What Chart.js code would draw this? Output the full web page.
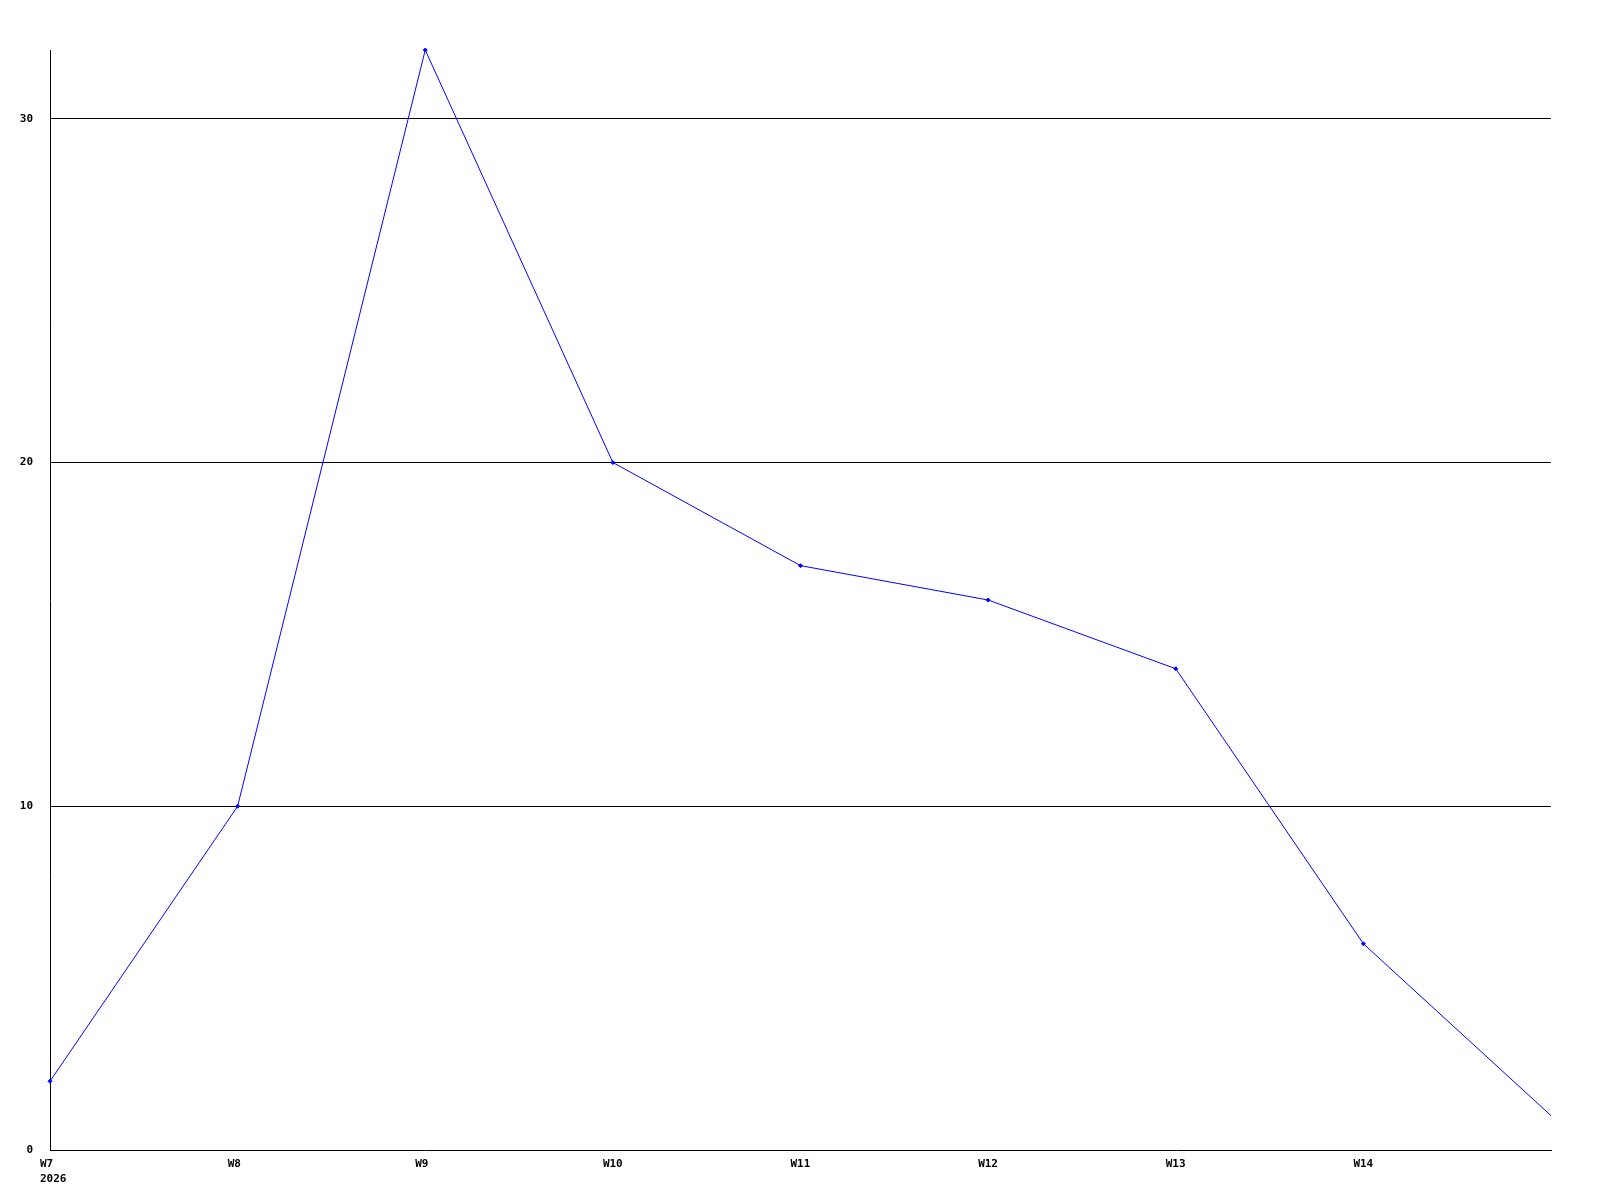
<!DOCTYPE html>
<html lang="en">
<head>
    <meta charset="UTF-8">
    <title>Weekly chart</title>
    <script src="https://cdn.jsdelivr.net/npm/chart.js"></script>
    <style>
        body { margin: 0; background: #fff; }
    </style>
</head>
<body>
    <canvas id="grafico" width="1600" height="1200"></canvas>

    <script>
        // data
        const weekLabels = [['W7', '2026'], 'W8', 'W9', 'W10', 'W11', 'W12', 'W13', 'W14', ''];
        const weekIndex = [0, 1, 2, 3, 4, 5, 6, 7, 8];
        const counts = [2, 10, 32, 20, 17, 16, 14, 6, 1];
        const yTicks = [0, 10, 20, 30];

        const font = { family: 'DejaVu Sans Mono', size: 11, weight: 'bold', lineHeight: 1.4 };

        const ctx = document.getElementById('grafico').getContext('2d');
        const grafico = new Chart(ctx, {
            type: 'line',
            data: {
                datasets: [{
                    data: weekIndex.map((x, i) => ({ x: x, y: counts[i] })),
                    borderColor: '#0000ff',
                    backgroundColor: '#0000ff',
                    borderWidth: 1,
                    pointRadius: counts.map((v, i) => i === counts.length - 1 ? 0 : 2),
                    pointStyle: 'rectRot',
                    tension: 0,
                    clip: false
                }]
            },
            options: {
                responsive: false,
                animation: false,
                layout: { padding: { top: 50, right: 49, left: 0, bottom: 0 } },
                plugins: { legend: { display: false }, tooltip: { enabled: false } },
                scales: {
                    x: {
                        type: 'linear',
                        min: 0,
                        max: 8,
                        afterBuildTicks: s => { s.ticks = weekIndex.map(v => ({ value: v })); },
                        afterFit: s => { s.height = 50; },
                        grid: { display: false, drawTicks: false },
                        border: { display: true, color: '#000', width: 1 },
                        ticks: {
                            color: '#000',
                            font: font,
                            padding: 6,
                            maxRotation: 0,
                            autoSkip: false,
                            align: 'start',
                            labelOffset: -10,
                            callback: v => weekLabels[v]
                        }
                    },
                    y: {
                        min: 0,
                        max: 32,
                        afterBuildTicks: s => { s.ticks = yTicks.map(v => ({ value: v })); },
                        afterFit: s => { s.width = 50; },
                        grid: {
                            color: c => c.tick && c.tick.value === 0 ? 'rgba(0,0,0,0)' : '#000',
                            lineWidth: 1,
                            drawTicks: false
                        },
                        border: { display: true, color: '#000', width: 1 },
                        ticks: {
                            color: '#000',
                            font: font,
                            padding: 17
                        }
                    }
                }
            }
        });
    </script>
</body>
</html>
